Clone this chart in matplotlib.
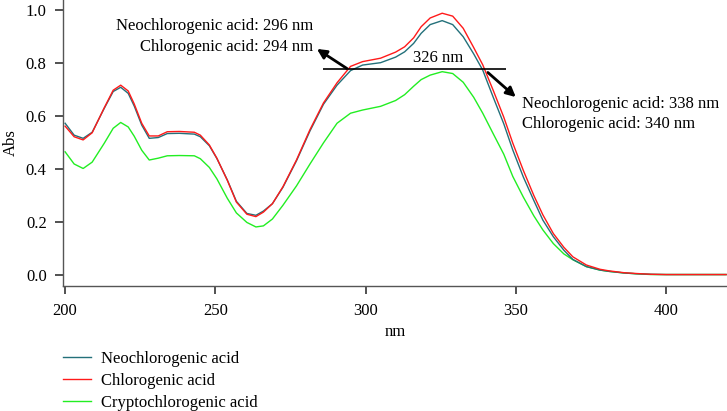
import matplotlib
matplotlib.use('Agg')
import matplotlib.pyplot as plt

plt.rcParams['font.family'] = ['Liberation Serif', 'DejaVu Serif']

# wavelength (nm)
wl = [200, 203, 206, 209, 213, 216, 218.5, 221, 223, 225.5, 228, 231, 234, 238,
      243, 245, 248, 250.5, 254, 257, 260.5, 263.5, 266, 269, 272.5, 277, 281.5,
      286, 290.5, 295, 299, 305, 310, 313, 316, 318.5, 321.5, 325.5, 329, 332.5,
      336, 339, 342.5, 346, 349, 352.5, 356, 359, 362.5, 366, 369, 373.5, 378,
      381, 386, 390, 395, 400, 410, 420]

neo = [0.572, 0.527, 0.515, 0.538, 0.628, 0.692, 0.708, 0.685, 0.637, 0.565,
       0.515, 0.518, 0.533, 0.534, 0.531, 0.521, 0.487, 0.439, 0.357, 0.277,
       0.231, 0.224, 0.240, 0.268, 0.330, 0.430, 0.543, 0.644, 0.716, 0.771,
       0.792, 0.801, 0.822, 0.842, 0.874, 0.912, 0.945, 0.960, 0.945, 0.899,
       0.834, 0.773, 0.670, 0.570, 0.471, 0.369, 0.280, 0.206, 0.143, 0.092,
       0.057, 0.030, 0.017, 0.012, 0.006, 0.003, 0.001, 0.0, 0.0, 0.0]

chloro = [0.561, 0.521, 0.509, 0.536, 0.630, 0.697, 0.716, 0.694, 0.645, 0.572,
          0.524, 0.524, 0.540, 0.541, 0.538, 0.527, 0.490, 0.440, 0.356, 0.274,
          0.228, 0.219, 0.236, 0.268, 0.332, 0.433, 0.548, 0.649, 0.725, 0.787,
          0.805, 0.818, 0.841, 0.861, 0.895, 0.937, 0.970, 0.988, 0.977, 0.931,
          0.858, 0.793, 0.696, 0.595, 0.497, 0.394, 0.299, 0.226, 0.155, 0.103,
          0.067, 0.036, 0.020, 0.014, 0.007, 0.004, 0.001, 0.0, 0.0, 0.0]

crypto = [0.464, 0.418, 0.401, 0.425, 0.496, 0.553, 0.575, 0.558, 0.523, 0.470,
          0.433, 0.440, 0.449, 0.450, 0.449, 0.438, 0.405, 0.362, 0.288, 0.233,
          0.197, 0.180, 0.184, 0.210, 0.262, 0.335, 0.418, 0.498, 0.572, 0.610,
          0.622, 0.636, 0.658, 0.680, 0.712, 0.737, 0.754, 0.767, 0.760, 0.727,
          0.670, 0.610, 0.532, 0.455, 0.371, 0.293, 0.222, 0.169, 0.117, 0.078,
          0.056, 0.030, 0.017, 0.012, 0.006, 0.003, 0.0, 0.0, 0.0, 0.0]

labels = ['Neochlorogenic acid', 'Chlorogenic acid', 'Cryptochlorogenic acid']
colors = ['#23707a', '#ff1a1a', '#22ee22']

fig = plt.figure(figsize=(7.27, 4.11), dpi=100)
ax = fig.add_axes([0.0871, 0.304, 0.9129, 0.696])

ax.plot(wl, neo, color=colors[0], lw=1.0, label=labels[0], zorder=3)
ax.plot(wl, chloro, color=colors[1], lw=1.0, label=labels[1], zorder=4)
ax.plot(wl, crypto, color=colors[2], lw=1.0, label=labels[2], zorder=2)

ax.set_xlim(199.4, 420.3)
ax.set_ylim(-0.0435, 1.038)
ax.set_xticks([200, 250, 300, 350, 400])
ax.set_yticks([0.0, 0.2, 0.4, 0.6, 0.8, 1.0])
ax.set_yticklabels(['0.0', '0.2', '0.4', '0.6', '0.8', '1.0'])
ax.set_xlabel('nm', fontsize=12, labelpad=4)
ax.set_ylabel('Abs', fontsize=12, labelpad=5)

for s in ['top', 'right']:
    ax.spines[s].set_visible(False)
for s in ['left', 'bottom']:
    ax.spines[s].set_color('#555555')
    ax.spines[s].set_linewidth(1.0)
ax.tick_params(axis='both', direction='out', length=6, width=1.2,
               color='#333333', labelsize=12, pad=6)

# annotations
ax.hlines(0.777, 285.7, 346.7, color='black', lw=1.2, zorder=5)
ax.text(324.0, 0.818, '326 nm', fontsize=12, ha='center', va='center')

ax.annotate('', xy=(283.8, 0.853), xytext=(293.8, 0.779),
            arrowprops=dict(arrowstyle='-|>', color='black', lw=2,
                            mutation_scale=14, shrinkA=0, shrinkB=0))
ax.text(282.5, 0.940, 'Neochlorogenic acid: 296 nm', fontsize=12,
        ha='right', va='center')
ax.text(282.5, 0.860, 'Chlorogenic acid: 294 nm', fontsize=12,
        ha='right', va='center')

ax.annotate('', xy=(350.0, 0.671), xytext=(340.7, 0.764),
            arrowprops=dict(arrowstyle='-|>', color='black', lw=2,
                            mutation_scale=14, shrinkA=0, shrinkB=0))
ax.text(352.0, 0.645, 'Neochlorogenic acid: 338 nm', fontsize=12,
        ha='left', va='center')
ax.text(352.0, 0.569, 'Chlorogenic acid: 340 nm', fontsize=12,
        ha='left', va='center')

fig.legend(loc='upper left', bbox_to_anchor=(0.0867, 0.146), frameon=False,
           fontsize=12, handlelength=1.7, handletextpad=0.55,
           labelspacing=0.36, borderpad=0, borderaxespad=0)

fig.savefig('out.png', dpi=100)
